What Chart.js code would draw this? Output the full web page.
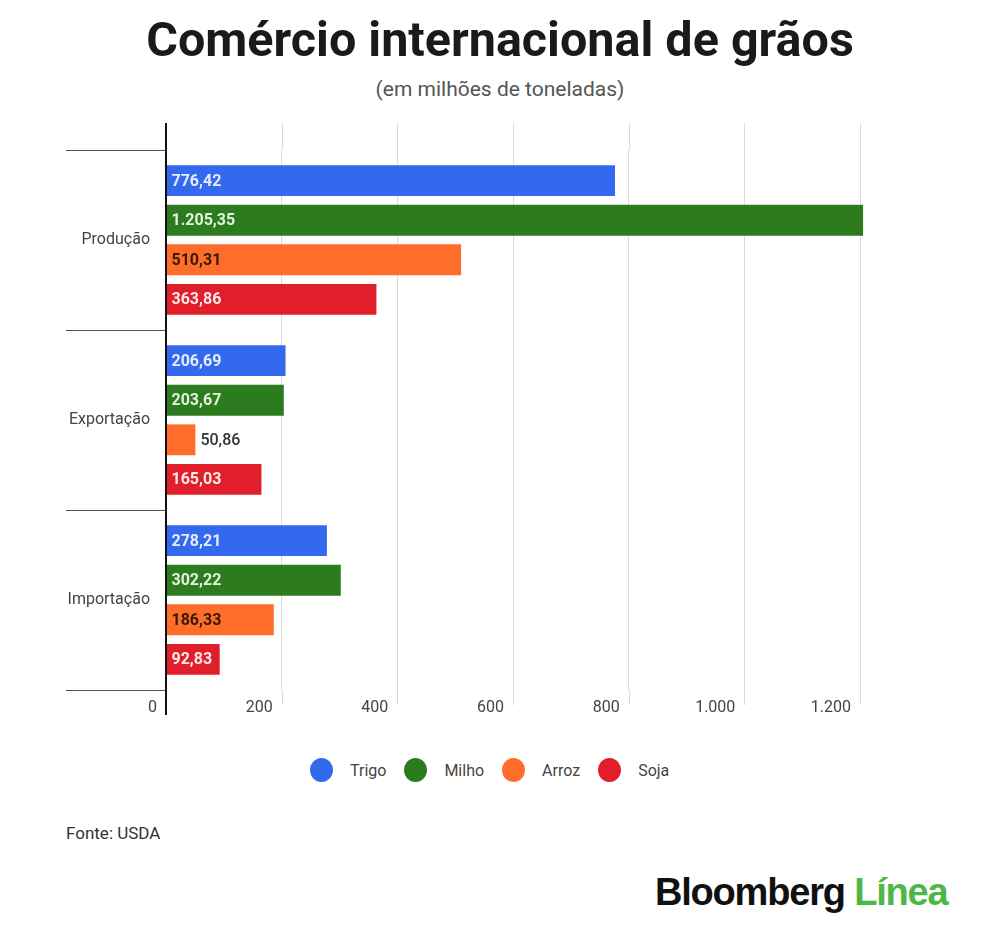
<!DOCTYPE html>
<html lang="pt-BR">
<head>
<meta charset="utf-8">
<script src="https://cdn.jsdelivr.net/npm/chart.js@4.4.1/dist/chart.umd.min.js"></script>
<style>
  html, body { margin: 0; padding: 0; background: #fff; }
  body { width: 1000px; height: 941px; position: relative; overflow: hidden; font-family: Roboto, "Noto Sans", sans-serif; }
  #title { position: absolute; top: 11px; left: 0; width: 1000px; text-align: center; font-weight: 700; font-size: 48.5px; color: #1a1a1a; line-height: 58px; }
  #subtitle { position: absolute; top: 75px; left: 0; width: 1000px; text-align: center; font-size: 21px; color: #555; line-height: 28px; }
  #wrap { position: absolute; top: 100px; left: 0; width: 1000px; height: 640px; }
  #legend { position: absolute; top: 758px; left: 310px; display: flex; align-items: center; font-size: 16px; color: #444; }
  #legend .item { display: flex; align-items: center; margin-right: 18px; }
  #legend .dot { width: 23px; height: 24px; border-radius: 50%; margin-right: 17px; }
  #fonte { position: absolute; top: 823px; left: 66px; font-size: 17px; color: #333; }
  #logo { position: absolute; top: 871px; left: 655px; font-family: "Liberation Sans", Arial, sans-serif; font-weight: 700; font-size: 38px; letter-spacing: -1.2px; color: #111; }
  #logo span { color: #4db748; }
</style>
</head>
<body>
<div id="title">Comércio internacional de grãos</div>
<div id="subtitle">(em milhões de toneladas)</div>
<div id="wrap"><canvas id="c"></canvas></div>
<div id="legend"></div>
<div id="fonte">Fonte: USDA</div>
<div id="logo">Bloomberg <span>Línea</span></div>
<script>
// ---- data ----
const categories = ['Produção', 'Exportação', 'Importação'];
const seriesNames = ['Trigo', 'Milho', 'Arroz', 'Soja'];
const trigo = [776.42, 206.69, 278.21];
const milho = [1205.35, 203.67, 302.22];
const arroz = [510.31, 50.86, 186.33];
const soja = [363.86, 165.03, 92.83];
const xTicks = [0, 200, 400, 600, 800, 1000, 1200];

// ---- styles ----
const colors = ['#3369ee', '#2c7b1f', '#ff6d2a', '#e01f2b'];
const insideText = ['#e6edff', '#e3f2dc', '#3a1806', '#ffeaea'];
const values = [trigo, milho, arroz, soja];

function fmtThousands(n) {
  return String(n).replace(/\B(?=(\d{3})+(?!\d))/g, '.');
}
function fmtValue(v) {
  const parts = v.toFixed(2).split('.');
  return fmtThousands(parts[0]) + ',' + parts[1];
}

// legend (HTML)
const legend = document.getElementById('legend');
seriesNames.forEach((n, i) => {
  const it = document.createElement('div');
  it.className = 'item';
  const d = document.createElement('span');
  d.className = 'dot';
  d.style.background = colors[i];
  const t = document.createElement('span');
  t.textContent = n;
  it.appendChild(d); it.appendChild(t);
  legend.appendChild(it);
});

const extras = {
  id: 'extras',
  beforeDatasetsDraw(chart) {
    const { ctx, chartArea: a, scales: { x } } = chart;
    ctx.save();
    ctx.strokeStyle = '#dadada';
    ctx.lineWidth = 1;
    x.ticks.forEach(t => {
      if (t.value === 0) return;
      const px = Math.round(x.getPixelForValue(t.value)) + 0.5;
      ctx.beginPath();
      ctx.moveTo(px, a.top - 27); ctx.lineTo(px, a.top);
      ctx.moveTo(px, a.bottom); ctx.lineTo(px, a.bottom + 15);
      ctx.stroke();
    });
    ctx.restore();
  },
  afterDatasetsDraw(chart) {
    const { ctx, chartArea: a, scales: { x } } = chart;
    ctx.save();
    // value labels
    ctx.font = 'bold 16px Roboto';
    ctx.textBaseline = 'middle';
    ctx.textAlign = 'left';
    chart.data.datasets.forEach((ds, di) => {
      const meta = chart.getDatasetMeta(di);
      meta.data.forEach((el, i) => {
        const txt = fmtValue(ds.data[i]);
        const w = ctx.measureText(txt).width;
        const len = el.x - el.base;
        if (w + 10 < len) {
          ctx.fillStyle = insideText[di];
          ctx.font = 'bold 16px Roboto';
          ctx.fillText(txt, el.base + 5, el.y + 1);
        } else {
          ctx.fillStyle = '#333';
          ctx.font = '500 16px Roboto';
          ctx.fillText(txt, el.x + 5, el.y + 1);
          ctx.font = 'bold 16px Roboto';
        }
      });
    });
    // zero axis line
    const x0 = Math.round(x.getPixelForValue(0));
    ctx.strokeStyle = '#111';
    ctx.lineWidth = 2;
    ctx.beginPath();
    ctx.moveTo(x0, a.top - 27);
    ctx.lineTo(x0, a.bottom + 25);
    ctx.stroke();
    ctx.restore();
  }
};

new Chart(document.getElementById('c'), {
  type: 'bar',
  data: {
    labels: categories,
    datasets: seriesNames.map((n, i) => ({
      label: n,
      data: values[i],
      backgroundColor: colors[i],
      borderWidth: 0,
      categoryPercentage: 0.88,
      barPercentage: 0.78,
      clip: false
    }))
  },
  options: {
    indexAxis: 'y',
    responsive: true,
    maintainAspectRatio: false,
    animation: false,
    layout: { padding: { top: 50, left: 66, right: 140, bottom: 23 } },
    plugins: {
      legend: { display: false },
      tooltip: { enabled: false },
      title: { display: false }
    },
    scales: {
      x: {
        type: 'linear',
        min: 0,
        max: 1200,
        afterBuildTicks(s) { s.ticks = xTicks.map(v => ({ value: v })); },
        afterFit(s) { s.height = 27; },
        grid: { color: '#dadada', drawTicks: false, lineWidth: 1 },
        border: { display: false },
        ticks: {
          align: 'end',
          labelOffset: -9,
          padding: 8,
          color: '#444',
          font: { family: 'Roboto', size: 16 },
          callback: v => fmtThousands(v)
        }
      },
      y: {
        afterFit(s) { s.width = 100; },
        grid: { display: true, drawOnChartArea: false, drawTicks: true, tickLength: 100, offset: true, color: '#555', lineWidth: 1 },
        border: { display: false },
        ticks: {
          padding: -84,
          color: '#444',
          font: { family: 'Roboto', size: 16 }
        }
      }
    }
  },
  plugins: [extras]
});
</script>
</body>
</html>
